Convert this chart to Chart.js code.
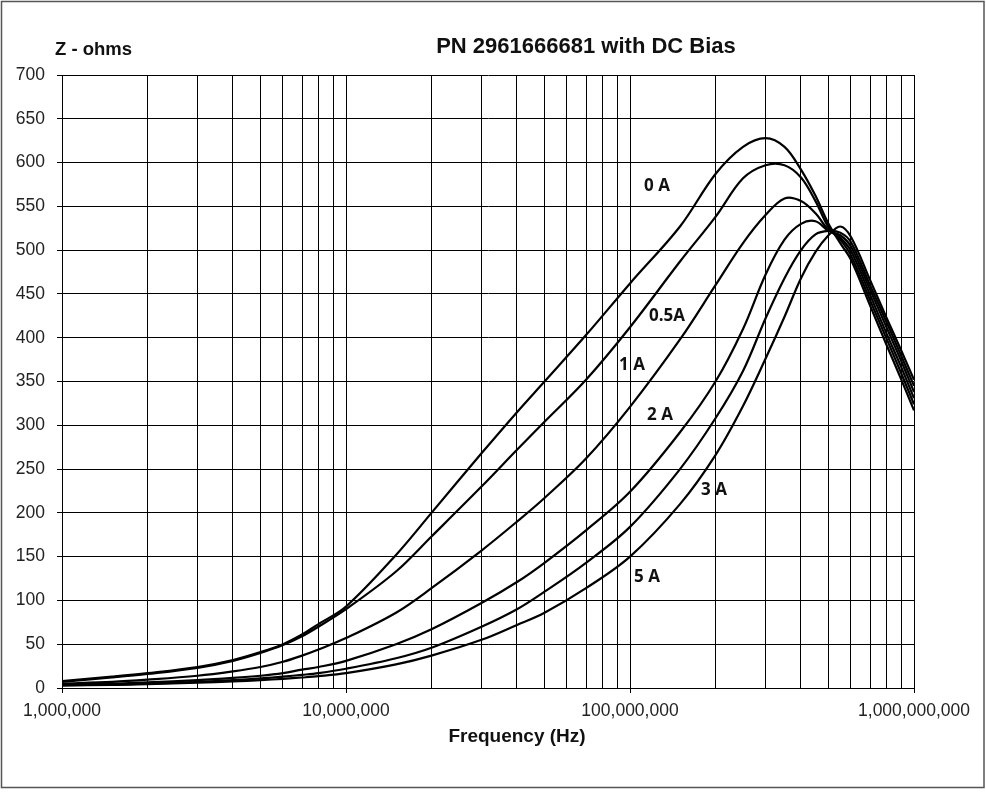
<!DOCTYPE html>
<html>
<head>
<meta charset="utf-8">
<title>PN 2961666681 with DC Bias</title>
<script src="https://cdn.jsdelivr.net/npm/chart.js@4.4.1/dist/chart.umd.min.js"></script>
<style>
    html, body { margin: 0; padding: 0; background: #fff; }
    #wrap { width: 986px; height: 794px; }
</style>
</head>
<body>
<div id="wrap"><canvas id="zChart" width="986" height="794"></canvas></div>
<script>
// Messpunkte (Hz) und Impedanz in Ohm je DC-Bias
const freqHz = [1e6, 1.5e6, 2e6, 3e6, 4e6, 5e6, 6e6, 7e6, 8e6, 1e7,
    1.5e7, 2e7, 3e7, 4e7, 5e7, 7e7, 1e8, 1.5e8, 2e8, 2.5e8,
    3e8, 3.5e8, 4e8, 4.5e8, 5e8, 5.5e8, 6e8, 7e8, 8e8, 9e8, 1e9];

const z0A  = [8, 13, 17, 24, 32, 41, 50, 61, 73, 93,
    152, 200, 268, 315, 350, 403, 462, 527, 587, 618,
    628, 618, 592, 562, 530, 508, 489, 437, 392, 353, 317];
const z05A = [7, 12, 16, 23, 31, 40, 49, 59, 70, 90,
    133, 173, 230, 272, 304, 352, 412, 487, 538, 582,
    597, 597, 583, 556, 526, 512, 494, 443, 399, 360, 324];
const z1A  = [5, 7, 9.5, 14, 19, 24, 30, 37, 44, 57,
    86, 114, 157, 190, 217, 262, 321, 398, 460, 508,
    540, 559, 556, 542, 523, 514, 499, 449, 405, 367, 331];
const z2A  = [4, 5, 6.5, 9, 11.5, 14, 17, 21, 24, 31,
    50, 67, 97, 121, 143, 180, 224, 292, 350, 410,
    472, 512, 530, 533, 522, 517, 504, 455, 412, 374, 338];
const z3A  = [3, 4, 5, 7, 9, 11, 13, 15, 17, 22,
    34, 46, 70, 90, 110, 143, 184, 250, 308, 362,
    422, 468, 500, 518, 522, 520, 509, 460, 418, 380, 345];
const z5A  = [3, 3.5, 4.5, 6, 7.5, 9, 10.5, 12, 13.5, 17,
    27, 37, 55, 72, 86, 114, 150, 210, 266, 322,
    376, 424, 468, 498, 517, 527, 515, 466, 423, 386, 352];

const seriesZ = [z0A, z05A, z1A, z2A, z3A, z5A];

// Beschriftungen an den Kurven (Frequenz, Ohm)
const curveNames = ['0 A', '0.5A', '1 A', '2 A', '3 A', '5 A'];
const labelFreq = [1.245e8, 1.35e8, 1.016e8, 1.275e8, 1.976e8, 1.148e8];
const labelZ = [573, 425, 369, 311, 226, 127];

// Gitter: 1..9 pro Dekade
const decades = [1e6, 1e7, 1e8];
const gridFreqs = [];
decades.forEach(d => { for (let m = 1; m <= 9; m++) gridFreqs.push(d * m); });
gridFreqs.push(1e9);

const isDecade = v => Math.abs(Math.log10(v) - Math.round(Math.log10(v))) < 1e-9;

const tickFont = { family: "'Liberation Sans', Arial, sans-serif", size: 17.5 };

const curveLabels = {
    id: 'curveLabels',
    afterDatasetsDraw(chart) {
        const { ctx, scales: { x, y } } = chart;
        ctx.save();
        ctx.font = "bold 17px 'Open Sans', sans-serif";
        ctx.fillStyle = '#111';
        ctx.textAlign = 'center';
        ctx.textBaseline = 'middle';
        curveNames.forEach((name, i) => {
            ctx.fillText(name, x.getPixelForValue(labelFreq[i]), y.getPixelForValue(labelZ[i]));
        });
        ctx.restore();
    }
};

const frameTexts = {
    id: 'frameTexts',
    afterDraw(chart) {
        const ctx = chart.ctx;
        ctx.save();
        ctx.fillStyle = '#111';
        ctx.textBaseline = 'middle';
        ctx.font = "bold 22px 'Liberation Sans', Arial, sans-serif";
        ctx.textAlign = 'center';
        ctx.fillText('PN 2961666681 with DC Bias', 586, 47);
        ctx.font = "bold 18.5px 'Liberation Sans', Arial, sans-serif";
        ctx.textAlign = 'left';
        ctx.fillText('Z - ohms', 55, 50);
        ctx.font = "bold 19px 'Liberation Sans', Arial, sans-serif";
        ctx.textAlign = 'center';
        ctx.fillText('Frequency (Hz)', 517, 737);
        ctx.strokeStyle = '#555';
        ctx.lineWidth = 1.5;
        ctx.strokeRect(1.5, 1.5, 982.5, 786);
        ctx.restore();
    }
};

new Chart(document.getElementById('zChart'), {
    type: 'line',
    data: {
        datasets: seriesZ.map((zs, i) => ({
            label: curveNames[i],
            data: freqHz.map((f, k) => ({ x: f, y: zs[k] })),
            borderColor: '#000',
            borderWidth: 2.2,
            pointRadius: 0,
            fill: false,
            tension: 0.35
        }))
    },
    options: {
        responsive: false,
        animation: false,
        devicePixelRatio: 1,
        layout: { padding: { top: 75, right: 72, left: 0, bottom: 0 } },
        plugins: {
            legend: { display: false },
            title: { display: false },
            tooltip: { enabled: false }
        },
        scales: {
            x: {
                type: 'logarithmic',
                min: 1e6,
                max: 1e9,
                afterBuildTicks: scale => { scale.ticks = gridFreqs.map(v => ({ value: v, major: isDecade(v) })); },
                afterFit: scale => { scale.height = 106; },
                ticks: {
                    autoSkip: false,
                    maxRotation: 0,
                    padding: 8,
                    color: '#222',
                    font: tickFont,
                    callback: v => isDecade(v) ? Number(v).toLocaleString('en-US') : ''
                },
                grid: {
                    color: '#000',
                    lineWidth: 1,
                    tickLength: 5,
                    tickColor: ctx => (ctx.tick && isDecade(ctx.tick.value)) ? '#000' : 'rgba(0,0,0,0)'
                },
                border: { color: '#000', width: 1 }
            },
            y: {
                min: 0,
                max: 700,
                afterFit: scale => { scale.width = 62; },
                ticks: { stepSize: 50, padding: 12, color: '#222', font: tickFont },
                grid: { color: '#000', lineWidth: 1, tickLength: 5 },
                border: { color: '#000', width: 1 }
            }
        }
    },
    plugins: [curveLabels, frameTexts]
});
</script>
</body>
</html>
